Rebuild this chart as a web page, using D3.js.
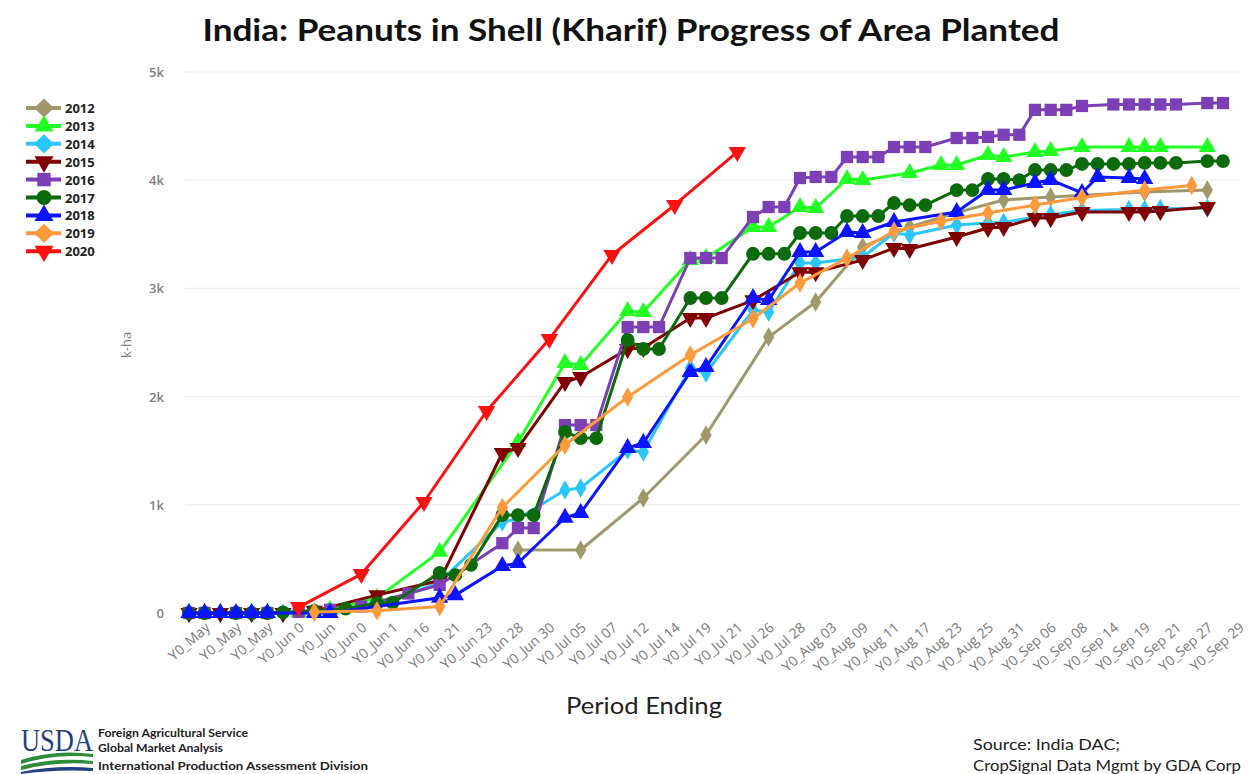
<!DOCTYPE html>
<html><head><meta charset="utf-8">
<script src="https://cdn.jsdelivr.net/npm/d3@7"></script>
<style>body{margin:0;background:#fff;} svg{display:block}</style>
</head><body>
<svg id="chart" width="1248" height="774"></svg>
<script>
// ---- data ----
const tickLabels = ["Y0_May","Y0_May","Y0_May","Y0_Jun 0","Y0_Jun","Y0_Jun 0","Y0_Jun 1","Y0_Jun 16","Y0_Jun 21","Y0_Jun 23","Y0_Jun 28","Y0_Jun 30","Y0_Jul 05","Y0_Jul 07","Y0_Jul 12","Y0_Jul 14","Y0_Jul 19","Y0_Jul 21","Y0_Jul 26","Y0_Jul 28","Y0_Aug 03","Y0_Aug 09","Y0_Aug 11","Y0_Aug 17","Y0_Aug 23","Y0_Aug 25","Y0_Aug 31","Y0_Sep 06","Y0_Sep 08","Y0_Sep 14","Y0_Sep 19","Y0_Sep 21","Y0_Sep 27","Y0_Sep 29"];
const yTicks = [0,1000,2000,3000,4000,5000];
const yTickLabels = ["0","1k","2k","3k","4k","5k"];
const years = ["2012","2013","2014","2015","2016","2017","2018","2019","2020"];
// [category index, value in k-ha]
const s2012 = [[21,582],[25,582],[29,1063],[33,1645],[37,2550],[40,2874],[43,3383],[46,3567],[49,3700],[52,3817],[55,3845],[61,3890],[65,3909]];
const s2013 = [[0,0],[2,0],[4,0],[7,10],[9,30],[12,140],[16,565],[21,1580],[24,2310],[25,2292],[28,2791],[29,2782],[32,3262],[33,3280],[36,3567],[37,3567],[39,3752],[40,3743],[42,4011],[43,4002],[46,4067],[48,4140],[49,4140],[51,4233],[52,4214],[54,4260],[55,4270],[57,4307],[60,4307],[61,4307],[62,4307],[65,4307]];
const s2014 = [[0,0],[2,0],[4,0],[6,0],[8,10],[12,60],[16,285],[20,840],[21,870],[24,1137],[25,1155],[28,1506],[29,1488],[32,2264],[33,2218],[36,2800],[37,2782],[39,3235],[40,3235],[43,3290],[45,3512],[46,3494],[49,3586],[51,3604],[52,3610],[54,3660],[55,3680],[57,3720],[60,3730],[61,3730],[62,3735],[65,3740]];
const s2015 = [[0,0],[2,0],[4,0],[6,0],[8,20],[12,165],[16,300],[20,1479],[21,1525],[24,2135],[25,2181],[28,2440],[29,2450],[32,2726],[33,2726],[36,2890],[39,3150],[40,3150],[43,3262],[45,3373],[46,3364],[49,3475],[51,3558],[52,3567],[54,3650],[55,3650],[57,3706],[60,3706],[61,3706],[62,3715],[65,3752]];
const s2016 = [[0,0],[1,0],[3,0],[5,0],[7,10],[9,30],[11,60],[14,180],[16,260],[20,645],[21,785],[22,785],[24,1737],[25,1737],[26,1737],[28,2643],[29,2643],[30,2643],[32,3281],[33,3281],[34,3281],[36,3660],[37,3752],[38,3752],[39,4020],[40,4030],[41,4030],[42,4214],[43,4214],[44,4214],[45,4307],[46,4307],[47,4307],[49,4390],[50,4390],[51,4400],[52,4420],[53,4420],[54,4650],[55,4650],[56,4650],[57,4686],[59,4700],[60,4700],[61,4700],[62,4700],[63,4700],[65,4713],[66,4713]];
const s2017 = [[0,0],[1,0],[3,0],[4,0],[5,0],[6,5],[8,20],[10,40],[12,90],[13,95],[16,370],[17,350],[18,445],[20,905],[21,905],[22,905],[24,1673],[25,1617],[26,1617],[28,2523],[29,2440],[30,2440],[32,2911],[33,2911],[34,2911],[36,3320],[37,3320],[38,3320],[39,3512],[40,3512],[41,3512],[42,3669],[43,3669],[44,3669],[45,3789],[46,3770],[47,3770],[49,3909],[50,3909],[51,4011],[52,4011],[53,4000],[54,4094],[55,4094],[56,4094],[57,4150],[58,4150],[59,4150],[60,4150],[61,4160],[62,4160],[63,4160],[65,4177],[66,4177]];
const s2018 = [[0,0],[1,0],[2,0],[3,0],[4,0],[5,0],[8,0],[9,0],[16,140],[17,165],[20,434],[21,462],[24,880],[25,925],[28,1525],[29,1571],[32,2227],[33,2273],[36,2911],[37,2893],[39,3336],[40,3336],[42,3521],[43,3512],[45,3614],[49,3706],[51,3909],[52,3909],[54,3974],[55,4002],[57,3882],[58,4030],[60,4020],[61,4011]];
const s2019 = [[8,10],[12,20],[16,60],[20,975],[24,1553],[28,1996],[32,2384],[36,2720],[39,3050],[42,3280],[45,3530],[48,3620],[51,3697],[54,3771],[57,3840],[61,3909],[64,3950]];
const s2020 = [[7,55],[11,360],[15,1026],[19,1867],[23,2532],[27,3309],[31,3771],[35,4261]];
const seriesValues = [s2012,s2013,s2014,s2015,s2016,s2017,s2018,s2019,s2020];
const colors = ["#a0976b","#22ff22","#2bc6ff","#800000","#7d3fb5","#0b6b0b","#0a14ff","#ff9a3c","#ff1010"];
const shapes = ["diamond","triUp","diamond","triDown","square","circle","triUp","diamond","triDown"];

// ---- chart ----
const svg = d3.select("#chart");
const x = d3.scaleLinear().domain([0, 66]).range([189, 1223]);
const y = d3.scaleLinear().domain([0, 5000]).range([613, 72]);

function symbolPath(shape, s) {
  const map = {circle: d3.symbolCircle, square: d3.symbolSquare, diamond: d3.symbolDiamond, triUp: d3.symbolTriangle, triDown: d3.symbolTriangle};
  const sizes = {circle: 150, square: 150, diamond: 110, triUp: 130, triDown: 130};
  return d3.symbol().type(map[shape]).size(sizes[shape] * (s || 1))();
}

// grid
svg.append("g").selectAll("line").data(yTicks.slice(1)).join("line")
  .attr("x1", 185).attr("x2", 1240)
  .attr("y1", d => y(d)).attr("y2", d => y(d))
  .attr("stroke", "#efefef").attr("stroke-width", 1.5);

// y axis labels
svg.append("g").selectAll("text").data(yTicks).join("text")
  .attr("x", 164).attr("y", d => y(d) + 5)
  .attr("text-anchor", "end")
  .attr("font-family", "Open Sans, sans-serif").attr("font-size", 13).attr("font-weight", 600)
  .attr("fill", "#808080")
  .text((d, i) => yTickLabels[i]);

svg.append("text")
  .attr("transform", "translate(131,345) rotate(-90)")
  .attr("text-anchor", "middle")
  .attr("font-family", "Open Sans, sans-serif").attr("font-size", 13)
  .attr("fill", "#808080").text("k-ha");

// x labels
svg.append("g").selectAll("text").data(tickLabels).join("text")
  .attr("transform", (d, i) => `translate(${x(i * 2) + 22},${629}) rotate(-41)`)
  .attr("text-anchor", "end")
  .attr("font-family", "Open Sans, sans-serif").attr("font-size", 14)
  .attr("fill", "#7a7a7a")
  .text(d => d);

// lines and markers
const line = d3.line().x(d => x(d[0])).y(d => y(d[1]));
const plot = svg.append("g");
seriesValues.forEach((data, k) => {
  const g = plot.append("g");
  g.append("path").datum(data).attr("d", line)
    .attr("fill", "none").attr("stroke", colors[k]).attr("stroke-width", 3)
    .attr("stroke-linejoin", "round");
  g.selectAll("path.m").data(data).join("path").attr("class", "m")
    .attr("d", symbolPath(shapes[k]))
    .attr("transform", d => `translate(${x(d[0])},${y(d[1])})` + (shapes[k] === "triDown" ? " rotate(180)" : ""))
    .attr("fill", colors[k]);
});

// legend
const legend = svg.append("g");
years.forEach((yr, k) => {
  const cy = 108 + k * 17.9;
  legend.append("line").attr("x1", 26).attr("x2", 61).attr("y1", cy).attr("y2", cy)
    .attr("stroke", colors[k]).attr("stroke-width", 4);
  legend.append("path").attr("d", symbolPath(shapes[k], 1.2))
    .attr("transform", `translate(44,${cy})` + (shapes[k] === "triDown" ? " rotate(180)" : "") + (shapes[k] === "diamond" ? " scale(1.6,0.9)" : ""))
    .attr("fill", colors[k]);
  legend.append("text").attr("x", 65).attr("y", cy + 5)
    .attr("font-family", "Open Sans, sans-serif").attr("font-size", 13).attr("font-weight", 700)
    .attr("fill", "#222").text(yr);
});

// titles
svg.append("text").attr("x", 631).attr("y", 41).attr("text-anchor", "middle")
  .attr("font-family", "Lato, sans-serif").attr("font-weight", 700).attr("font-size", 31)
  .attr("textLength", 857).attr("lengthAdjust", "spacingAndGlyphs")
  .attr("fill", "#111").text("India: Peanuts in Shell (Kharif) Progress of Area Planted");

svg.append("text").attr("x", 644).attr("y", 714).attr("text-anchor", "middle")
  .attr("font-family", "Lato, sans-serif").attr("font-size", 24)
  .attr("textLength", 156).attr("lengthAdjust", "spacingAndGlyphs")
  .attr("fill", "#222").text("Period Ending");

// footer: USDA mark
const logo = svg.append("g");
logo.append("text").attr("x", 21).attr("y", 751)
  .attr("font-family", "Liberation Serif, serif").attr("font-size", 31)
  .attr("textLength", 72).attr("lengthAdjust", "spacingAndGlyphs")
  .attr("fill", "#1f3f86").text("USDA");
logo.append("path").attr("d", "M21,760 Q55,749 93,754 L93,757 Q55,753 21,764 Z").attr("fill", "#2e8b3a");
logo.append("path").attr("d", "M21,766 Q55,757 93,761 L93,764 Q55,761 21,770 Z").attr("fill", "#2e8b3a");
logo.append("path").attr("d", "M21,772 Q55,765 93,768 L93,771 Q55,769 21,774 Z").attr("fill", "#1f3f86");

const footL = [["Foreign Agricultural Service", 737, 150], ["Global Market Analysis", 752, 125], ["International Production Assessment Division", 770, 270]];
footL.forEach(f => svg.append("text").attr("x", 98).attr("y", f[1])
  .attr("font-family", "Lato, sans-serif").attr("font-weight", 700).attr("font-size", 12)
  .attr("textLength", f[2]).attr("lengthAdjust", "spacingAndGlyphs")
  .attr("fill", "#222").text(f[0]));

svg.append("text").attr("x", 973).attr("y", 750)
  .attr("font-family", "Lato, sans-serif").attr("font-size", 16)
  .attr("textLength", 147).attr("lengthAdjust", "spacingAndGlyphs")
  .attr("fill", "#222").text("Source: India DAC;");
svg.append("text").attr("x", 973).attr("y", 771)
  .attr("font-family", "Lato, sans-serif").attr("font-size", 16)
  .attr("textLength", 268).attr("lengthAdjust", "spacingAndGlyphs")
  .attr("fill", "#222").text("CropSignal Data Mgmt by GDA Corp");
</script>
</body></html>
